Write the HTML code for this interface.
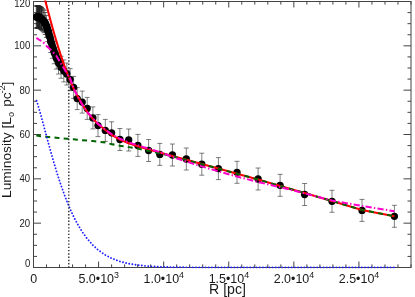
<!DOCTYPE html>
<html><head><meta charset="utf-8"><title>plot</title>
<style>
html,body{margin:0;padding:0;background:#fff;}
svg{display:block;font-family:"Liberation Sans",sans-serif;}
</style></head><body>
<svg width="415" height="297" viewBox="0 0 415 297">
<rect x="0" y="0" width="415" height="297" fill="#fff"/>
<defs><clipPath id="c2"><rect x="33.0" y="0" width="400" height="297"/></clipPath><clipPath id="c"><rect x="32.5" y="0.5" width="379.5" height="268.0"/></clipPath></defs>

<g stroke="#444" stroke-width="1" fill="none">
<rect x="33.5" y="1.5" width="377.5" height="266.0"/>
<path d="M46.52,267.5 v-3.1 M46.52,1.5 v3.1"/>
<path d="M59.53,267.5 v-3.1 M59.53,1.5 v3.1"/>
<path d="M72.55,267.5 v-3.1 M72.55,1.5 v3.1"/>
<path d="M85.57,267.5 v-3.1 M85.57,1.5 v3.1"/>
<path d="M98.59,267.5 v-6.0 M98.59,1.5 v6.0"/>
<path d="M111.60,267.5 v-3.1 M111.60,1.5 v3.1"/>
<path d="M124.62,267.5 v-3.1 M124.62,1.5 v3.1"/>
<path d="M137.64,267.5 v-3.1 M137.64,1.5 v3.1"/>
<path d="M150.66,267.5 v-3.1 M150.66,1.5 v3.1"/>
<path d="M163.67,267.5 v-6.0 M163.67,1.5 v6.0"/>
<path d="M176.69,267.5 v-3.1 M176.69,1.5 v3.1"/>
<path d="M189.71,267.5 v-3.1 M189.71,1.5 v3.1"/>
<path d="M202.72,267.5 v-3.1 M202.72,1.5 v3.1"/>
<path d="M215.74,267.5 v-3.1 M215.74,1.5 v3.1"/>
<path d="M228.76,267.5 v-6.0 M228.76,1.5 v6.0"/>
<path d="M241.78,267.5 v-3.1 M241.78,1.5 v3.1"/>
<path d="M254.79,267.5 v-3.1 M254.79,1.5 v3.1"/>
<path d="M267.81,267.5 v-3.1 M267.81,1.5 v3.1"/>
<path d="M280.83,267.5 v-3.1 M280.83,1.5 v3.1"/>
<path d="M293.84,267.5 v-6.0 M293.84,1.5 v6.0"/>
<path d="M306.86,267.5 v-3.1 M306.86,1.5 v3.1"/>
<path d="M319.88,267.5 v-3.1 M319.88,1.5 v3.1"/>
<path d="M332.90,267.5 v-3.1 M332.90,1.5 v3.1"/>
<path d="M345.91,267.5 v-3.1 M345.91,1.5 v3.1"/>
<path d="M358.93,267.5 v-6.0 M358.93,1.5 v6.0"/>
<path d="M371.95,267.5 v-3.1 M371.95,1.5 v3.1"/>
<path d="M384.97,267.5 v-3.1 M384.97,1.5 v3.1"/>
<path d="M397.98,267.5 v-3.1 M397.98,1.5 v3.1"/>
<path d="M411.00,267.5 v-3.1 M411.00,1.5 v3.1"/>
<path d="M33.5,256.42 h3.5 M411.0,256.42 h-3.5"/>
<path d="M33.5,245.33 h3.5 M411.0,245.33 h-3.5"/>
<path d="M33.5,234.25 h3.5 M411.0,234.25 h-3.5"/>
<path d="M33.5,223.17 h7.5 M411.0,223.17 h-7.5"/>
<path d="M33.5,212.08 h3.5 M411.0,212.08 h-3.5"/>
<path d="M33.5,201.00 h3.5 M411.0,201.00 h-3.5"/>
<path d="M33.5,189.92 h3.5 M411.0,189.92 h-3.5"/>
<path d="M33.5,178.83 h7.5 M411.0,178.83 h-7.5"/>
<path d="M33.5,167.75 h3.5 M411.0,167.75 h-3.5"/>
<path d="M33.5,156.67 h3.5 M411.0,156.67 h-3.5"/>
<path d="M33.5,145.58 h3.5 M411.0,145.58 h-3.5"/>
<path d="M33.5,134.50 h7.5 M411.0,134.50 h-7.5"/>
<path d="M33.5,123.42 h3.5 M411.0,123.42 h-3.5"/>
<path d="M33.5,112.33 h3.5 M411.0,112.33 h-3.5"/>
<path d="M33.5,101.25 h3.5 M411.0,101.25 h-3.5"/>
<path d="M33.5,90.17 h7.5 M411.0,90.17 h-7.5"/>
<path d="M33.5,79.08 h3.5 M411.0,79.08 h-3.5"/>
<path d="M33.5,68.00 h3.5 M411.0,68.00 h-3.5"/>
<path d="M33.5,56.92 h3.5 M411.0,56.92 h-3.5"/>
<path d="M33.5,45.83 h7.5 M411.0,45.83 h-7.5"/>
<path d="M33.5,34.75 h3.5 M411.0,34.75 h-3.5"/>
<path d="M33.5,23.67 h3.5 M411.0,23.67 h-3.5"/>
<path d="M33.5,12.58 h3.5 M411.0,12.58 h-3.5"/>
</g>
<g stroke="#222" stroke-width="0.58" fill="none" clip-path="url(#c)">
<path stroke-width="1.0" d="M36.30,6.00 V28.00 M33.80,6.00 h5 M33.80,28.00 h5"/>
<path stroke-width="1.0" d="M37.23,5.95 V27.95 M34.73,5.95 h5 M34.73,27.95 h5"/>
<path stroke-width="1.0" d="M37.60,5.93 V27.93 M35.10,5.93 h5 M35.10,27.93 h5"/>
<path stroke-width="1.0" d="M38.01,5.90 V27.90 M35.51,5.90 h5 M35.51,27.90 h5"/>
<path stroke-width="1.0" d="M38.46,6.06 V28.06 M35.96,6.06 h5 M35.96,28.06 h5"/>
<path stroke-width="1.0" d="M38.96,6.23 V28.23 M36.46,6.23 h5 M36.46,28.23 h5"/>
<path stroke-width="1.0" d="M39.50,6.43 V28.43 M37.00,6.43 h5 M37.00,28.43 h5"/>
<path stroke-width="1.0" d="M40.10,6.68 V28.68 M37.60,6.68 h5 M37.60,28.68 h5"/>
<path stroke-width="1.0" d="M40.76,7.21 V29.21 M38.26,7.21 h5 M38.26,29.21 h5"/>
<path stroke-width="1.0" d="M41.49,7.79 V29.79 M38.99,7.79 h5 M38.99,29.79 h5"/>
<path stroke-width="0.7" d="M42.29,8.52 V30.52 M39.79,8.52 h5 M39.79,30.52 h5"/>
<path stroke-width="0.7" d="M43.16,9.41 V31.41 M40.66,9.41 h5 M40.66,31.41 h5"/>
<path stroke-width="0.7" d="M44.13,10.61 V32.61 M41.63,10.61 h5 M41.63,32.61 h5"/>
<path stroke-width="0.7" d="M45.19,12.49 V34.49 M42.69,12.49 h5 M42.69,34.49 h5"/>
<path stroke-width="0.7" d="M46.36,15.36 V37.36 M43.86,15.36 h5 M43.86,37.36 h5"/>
<path d="M47.65,19.57 V41.57 M45.15,19.57 h5 M45.15,41.57 h5"/>
<path d="M49.06,24.70 V46.70 M46.56,24.70 h5 M46.56,46.70 h5"/>
<path d="M50.62,30.52 V52.52 M48.12,30.52 h5 M48.12,52.52 h5"/>
<path d="M52.33,36.30 V58.30 M49.83,36.30 h5 M49.83,58.30 h5"/>
<path d="M54.22,41.78 V63.78 M51.72,41.78 h5 M51.72,63.78 h5"/>
<path d="M56.29,47.10 V69.10 M53.79,47.10 h5 M53.79,69.10 h5"/>
<path d="M58.57,52.02 V74.02 M56.07,52.02 h5 M56.07,74.02 h5"/>
<path d="M61.07,56.27 V78.27 M58.57,56.27 h5 M58.57,78.27 h5"/>
<path d="M63.83,59.95 V81.95 M61.33,59.95 h5 M61.33,81.95 h5"/>
<path d="M66.80,63.00 V85.00 M64.30,63.00 h5 M64.30,85.00 h5"/>
<path d="M70.10,68.60 V90.60 M67.60,68.60 h5 M67.60,90.60 h5"/>
<path d="M73.60,76.40 V98.40 M71.10,76.40 h5 M71.10,98.40 h5"/>
<path d="M77.20,87.60 V109.60 M74.70,87.60 h5 M74.70,109.60 h5"/>
<path d="M82.20,91.10 V113.10 M79.70,91.10 h5 M79.70,113.10 h5"/>
<path d="M87.20,97.40 V119.40 M84.70,97.40 h5 M84.70,119.40 h5"/>
<path d="M92.90,106.90 V128.90 M90.40,106.90 h5 M90.40,128.90 h5"/>
<path d="M98.00,114.60 V136.60 M95.50,114.60 h5 M95.50,136.60 h5"/>
<path d="M105.30,119.40 V141.40 M102.80,119.40 h5 M102.80,141.40 h5"/>
<path d="M111.60,121.80 V143.80 M109.10,121.80 h5 M109.10,143.80 h5"/>
<path d="M119.90,128.50 V150.50 M117.40,128.50 h5 M117.40,150.50 h5"/>
<path d="M128.70,129.00 V151.00 M126.20,129.00 h5 M126.20,151.00 h5"/>
<path d="M137.90,134.40 V156.40 M135.40,134.40 h5 M135.40,156.40 h5"/>
<path d="M148.60,139.50 V161.50 M146.10,139.50 h5 M146.10,161.50 h5"/>
<path d="M159.80,143.40 V165.40 M157.30,143.40 h5 M157.30,165.40 h5"/>
<path d="M172.40,144.00 V166.00 M169.90,144.00 h5 M169.90,166.00 h5"/>
<path d="M186.30,148.00 V170.00 M183.80,148.00 h5 M183.80,170.00 h5"/>
<path d="M201.80,153.20 V175.20 M199.30,153.20 h5 M199.30,175.20 h5"/>
<path d="M218.40,157.60 V179.60 M215.90,157.60 h5 M215.90,179.60 h5"/>
<path d="M237.00,161.30 V183.30 M234.50,161.30 h5 M234.50,183.30 h5"/>
<path d="M258.10,168.00 V190.00 M255.60,168.00 h5 M255.60,190.00 h5"/>
<path d="M280.10,174.30 V196.30 M277.60,174.30 h5 M277.60,196.30 h5"/>
<path d="M304.60,183.50 V205.50 M302.10,183.50 h5 M302.10,205.50 h5"/>
<path d="M332.00,190.30 V212.30 M329.50,190.30 h5 M329.50,212.30 h5"/>
<path d="M362.00,199.40 V221.40 M359.50,199.40 h5 M359.50,221.40 h5"/>
<path d="M394.40,205.30 V227.30 M391.90,205.30 h5 M391.90,227.30 h5"/>
</g>
<path d="M36.30,17.00 L37.23,16.95 L37.60,16.93 L38.01,16.90 L38.46,17.06 L38.96,17.23 L39.50,17.43 L40.10,17.68 L40.76,18.21 L41.49,18.79 L42.29,19.52 L43.16,20.41 L44.13,21.61 L45.19,23.49 L46.36,26.36 L47.65,30.57 L49.06,35.70 L50.62,41.52 L52.33,47.30 L54.22,52.78 L56.29,58.10 L58.57,63.02 L61.07,67.27" fill="none" stroke="#000" stroke-width="5.6" stroke-linejoin="round" stroke-linecap="round" clip-path="url(#c2)"/>
<path d="M45.69,23.49 L46.86,26.36 L48.15,30.57 L49.56,35.70 L51.12,41.52 L52.83,47.30 L54.72,52.78 L56.79,58.10 L59.07,63.02" fill="none" stroke="#000" stroke-width="7.2" stroke-linejoin="round" stroke-linecap="round"/>
<g fill="#000" clip-path="url(#c2)">
<circle cx="36.30" cy="17.00" r="3.65"/>
<circle cx="37.23" cy="16.95" r="3.65"/>
<circle cx="37.60" cy="16.93" r="3.65"/>
<circle cx="38.01" cy="16.90" r="3.65"/>
<circle cx="38.46" cy="17.06" r="3.65"/>
<circle cx="38.96" cy="17.23" r="3.65"/>
<circle cx="39.50" cy="17.43" r="3.65"/>
<circle cx="40.10" cy="17.68" r="3.65"/>
<circle cx="40.76" cy="18.21" r="3.65"/>
<circle cx="41.49" cy="18.79" r="3.65"/>
<circle cx="42.29" cy="19.52" r="3.65"/>
<circle cx="43.16" cy="20.41" r="3.65"/>
<circle cx="44.13" cy="21.61" r="3.65"/>
<circle cx="45.19" cy="23.49" r="3.65"/>
<circle cx="46.36" cy="26.36" r="3.65"/>
<circle cx="47.65" cy="30.57" r="3.65"/>
<circle cx="49.06" cy="35.70" r="3.65"/>
<circle cx="50.62" cy="41.52" r="3.65"/>
<circle cx="52.33" cy="47.30" r="3.65"/>
<circle cx="54.22" cy="52.78" r="3.65"/>
<circle cx="56.29" cy="58.10" r="3.65"/>
<circle cx="58.57" cy="63.02" r="3.65"/>
<circle cx="61.07" cy="67.27" r="3.65"/>
<circle cx="63.83" cy="70.95" r="3.65"/>
<circle cx="66.80" cy="74.00" r="3.65"/>
<circle cx="70.10" cy="79.60" r="3.65"/>
<circle cx="73.60" cy="87.40" r="3.65"/>
<circle cx="77.20" cy="98.60" r="3.65"/>
<circle cx="82.20" cy="102.10" r="3.65"/>
<circle cx="87.20" cy="108.40" r="3.65"/>
<circle cx="92.90" cy="117.90" r="3.65"/>
<circle cx="98.00" cy="125.60" r="3.65"/>
<circle cx="105.30" cy="130.40" r="3.65"/>
<circle cx="111.60" cy="132.80" r="3.65"/>
<circle cx="119.90" cy="139.50" r="3.65"/>
<circle cx="128.70" cy="140.00" r="3.65"/>
<circle cx="137.90" cy="145.40" r="3.65"/>
<circle cx="148.60" cy="150.50" r="3.65"/>
<circle cx="159.80" cy="154.40" r="3.65"/>
<circle cx="172.40" cy="155.00" r="3.65"/>
<circle cx="186.30" cy="159.00" r="3.65"/>
<circle cx="201.80" cy="164.20" r="3.65"/>
<circle cx="218.40" cy="168.60" r="3.65"/>
<circle cx="237.00" cy="172.30" r="3.65"/>
<circle cx="258.10" cy="179.00" r="3.65"/>
<circle cx="280.10" cy="185.30" r="3.65"/>
<circle cx="304.60" cy="194.50" r="3.65"/>
<circle cx="332.00" cy="201.30" r="3.65"/>
<circle cx="362.00" cy="210.40" r="3.65"/>
<circle cx="394.40" cy="216.30" r="3.65"/>
</g>
<g fill="none" clip-path="url(#c)">
<path d="M36.30,-32.19 L37.23,-29.18 L37.60,-27.90 L38.01,-26.47 L38.46,-24.86 L38.96,-23.07 L39.50,-21.05 L40.10,-18.82 L40.76,-16.39 L41.49,-13.69 L42.29,-10.68 L43.16,-7.35 L44.13,-3.67 L45.19,0.40 L46.36,4.86 L47.65,9.75 L49.06,15.08 L50.62,20.85 L52.33,27.08 L54.22,33.74 L56.29,40.83 L58.57,48.30 L61.07,56.10 L63.83,64.16 L66.80,72.23 L70.10,80.45 L73.60,88.35 L77.20,95.62 L82.20,104.41 L87.20,111.83 L92.90,118.81 L98.00,123.94 L105.30,130.07 L111.60,134.95 L119.90,139.67 L128.70,143.27 L137.90,146.27 L148.60,149.62 L159.80,152.50 L172.40,156.10 L186.30,159.85 L201.80,164.10 L218.40,168.58 L237.00,173.70 L258.10,179.50 L280.10,186.00 L304.60,193.00 L332.00,201.00 L362.00,210.00 L394.40,216.30" stroke="#ff0000" stroke-width="2.05"/>
<path d="M36.30,135.40 L37.23,135.58 L37.60,135.67 L38.01,135.76 L38.46,135.86 L38.96,135.97 L39.50,136.09 L40.10,136.21 L40.76,136.27 L41.49,136.34 L42.29,136.41 L43.16,136.49 L44.13,136.58 L45.19,136.68 L46.36,136.79 L47.65,136.91 L49.06,137.04 L50.62,137.19 L52.33,137.35 L54.22,137.52 L56.29,137.72 L58.57,137.93 L61.07,138.16 L63.83,138.42 L66.80,138.69 L70.10,139.00 L73.60,139.33 L77.20,139.66 L82.20,140.13 L87.20,140.59 L92.90,141.12 L98.00,141.60 L105.30,142.57 L111.60,144.15 L119.90,145.73 L128.70,147.12 L137.90,148.63 L148.60,150.93 L159.80,153.20 L172.40,156.43 L186.30,160.00 L201.80,164.15 L218.40,168.60 L237.00,173.71 L258.10,179.50 L280.10,186.00 L304.60,193.00 L332.00,201.00 L362.00,210.00 L394.40,216.30" stroke="#006400" stroke-width="2" stroke-dasharray="5 4.25" stroke-dashoffset="0.2"/>
<path d="M36.30,99.91 L37.23,102.74 L37.60,103.93 L38.01,105.27 L38.46,106.78 L38.96,108.47 L39.50,110.36 L40.10,112.48 L40.76,114.84 L41.49,117.47 L42.29,120.40 L43.16,123.65 L44.13,127.25 L45.19,131.21 L46.36,135.57 L47.65,140.34 L49.06,145.53 L50.62,151.16 L52.33,157.23 L54.22,163.72 L56.29,170.61 L58.57,177.87 L61.07,185.44 L63.83,193.25 L66.80,201.04 L70.10,208.95 L73.60,216.52 L77.20,223.46 L82.20,231.79 L87.20,238.73 L92.90,245.19 L98.00,249.85 L105.30,255.00 L111.60,258.30 L119.90,261.43 L128.70,263.65 L137.90,265.14 L148.60,266.19 L159.80,266.80 L172.40,267.16 L186.30,267.35 L201.80,267.44 L218.40,267.48 L237.00,267.49 L258.10,267.50 L280.10,267.50 L304.60,267.50 L332.00,267.50 L362.00,267.50 L394.40,267.50" stroke="#2020ff" stroke-width="1.9" stroke-linecap="round" stroke-dasharray="0.01 3.18" stroke-dashoffset="-0.9"/>
<path d="M36.30,38.10 L37.23,38.49 L37.60,38.72 L38.01,38.97 L38.46,39.26 L38.96,39.56 L39.50,39.90 L40.10,40.27 L40.76,40.68 L41.24,40.99 M43.26,42.29 L44.13,43.25 L44.35,43.50 M46.05,45.41 L46.36,45.76 L47.65,47.09 L49.06,48.34 L50.62,49.70 L51.30,50.39 M53.09,52.27 L54.19,53.48 M55.92,55.38 L56.29,55.79 L58.57,59.58 L59.49,61.11 M60.72,63.16 L61.07,63.76 L61.50,64.46 M62.73,66.51 L63.83,68.35 L66.19,72.28 M67.46,74.31 L68.31,75.60 M69.64,77.62 L70.10,78.32 L71.95,83.62 M72.70,85.76 L73.17,87.12 M74.04,89.24 L76.96,95.14 M78.10,97.21 L78.85,98.52 M80.02,100.58 L82.20,104.41 L83.50,106.34 M84.86,108.35 L85.72,109.63 M87.08,111.65 L87.20,111.83 L91.58,117.12 M93.24,119.04 L94.42,120.19 M96.29,122.00 L98.00,123.66 L101.72,126.65 M103.67,128.21 L104.91,129.21 M106.89,130.70 L111.60,134.17 L112.52,134.68 M114.58,135.82 L115.90,136.55 M117.97,137.69 L119.90,138.77 L123.90,140.40 M126.02,141.27 L127.37,141.83 M129.50,142.63 L135.56,144.61 M137.71,145.31 L137.90,145.37 L139.08,145.74 M141.24,146.41 L147.30,148.31 M149.46,148.97 L150.83,149.38 M152.99,150.03 L159.07,151.84 M161.21,152.60 L162.57,153.12 M164.70,153.93 L170.71,156.22 M172.85,157.02 L174.21,157.48 M176.36,158.21 L182.41,160.26 M184.55,160.99 L185.92,161.46 M188.07,162.13 L194.14,164.02 M196.30,164.69 L197.67,165.11 M199.82,165.78 L201.80,166.40 L205.90,167.63 M208.06,168.27 L209.43,168.69 M211.59,169.33 L217.67,171.16 M219.83,171.77 L221.20,172.16 M223.37,172.76 L229.46,174.45 M231.63,175.06 L233.00,175.44 M235.16,176.04 L237.00,176.55 L241.27,177.66 M243.44,178.22 L244.82,178.58 M246.98,179.14 L253.09,180.73 M255.26,181.29 L256.64,181.65 M258.81,182.19 L264.93,183.63 M267.11,184.14 L268.49,184.47 M270.66,184.98 L276.79,186.42 M278.96,186.93 L280.10,187.20 L280.35,187.26 M282.52,187.80 L288.63,189.34 M290.80,189.89 L292.18,190.23 M294.35,190.78 L300.46,192.32 M302.63,192.86 L304.01,193.21 M306.18,193.77 L312.29,195.36 M314.46,195.92 L315.84,196.28 M318.00,196.85 L324.11,198.44 M326.28,199.00 L327.66,199.36 M329.83,199.93 L332.00,200.49 L335.96,201.22 M338.15,201.62 L339.54,201.88 M341.72,202.28 L347.87,203.41 M350.06,203.81 L351.45,204.06 M353.63,204.46 L359.79,205.59 M361.97,205.99 L362.00,206.00 L363.36,206.22 M365.55,206.57 L371.71,207.56 M373.90,207.91 L375.29,208.13 M377.48,208.48 L383.64,209.47 M385.83,209.82 L387.22,210.05 M389.41,210.40 L394.40,211.20" stroke="#ff00cc" stroke-width="2"/>
<path d="M68.8,1.5 V267.5" stroke="#222" stroke-width="1.35" stroke-dasharray="1.35 1.92"/>
</g>
<g fill="#1a1a1a" style="filter:grayscale(1)">
<text transform="translate(30.2,267.30) scale(0.87,1)" font-size="11.0" text-anchor="end">0</text>
<text transform="translate(30.2,226.67) scale(0.87,1)" font-size="11.0" text-anchor="end">20</text>
<text transform="translate(30.2,182.33) scale(0.87,1)" font-size="11.0" text-anchor="end">40</text>
<text transform="translate(30.2,138.00) scale(0.87,1)" font-size="11.0" text-anchor="end">60</text>
<text transform="translate(30.2,93.67) scale(0.87,1)" font-size="11.0" text-anchor="end">80</text>
<text transform="translate(30.2,49.33) scale(0.87,1)" font-size="11.0" text-anchor="end">100</text>
<text transform="translate(30.2,6.50) scale(0.87,1)" font-size="11.0" text-anchor="end">120</text>
<text transform="translate(33.6,283.4) scale(0.945,1)" font-size="13.2" text-anchor="middle">0</text>
<text transform="translate(98.69,283.4) scale(0.945,1)" font-size="13.2" text-anchor="middle">5.0&#8226;10<tspan font-size="9.4" dy="-5.0">3</tspan></text>
<text transform="translate(163.77,283.4) scale(0.945,1)" font-size="13.2" text-anchor="middle">1.0&#8226;10<tspan font-size="9.4" dy="-5.0">4</tspan></text>
<text transform="translate(228.86,283.4) scale(0.945,1)" font-size="13.2" text-anchor="middle">1.5&#8226;10<tspan font-size="9.4" dy="-5.0">4</tspan></text>
<text transform="translate(293.94,283.4) scale(0.945,1)" font-size="13.2" text-anchor="middle">2.0&#8226;10<tspan font-size="9.4" dy="-5.0">4</tspan></text>
<text transform="translate(359.03,283.4) scale(0.945,1)" font-size="13.2" text-anchor="middle">2.5&#8226;10<tspan font-size="9.4" dy="-5.0">4</tspan></text>
<text transform="translate(209,293.6) scale(1.01,1)" font-size="14.0">R [pc]</text>
<g transform="translate(10.7,197.9) rotate(-90) scale(1.025,1)" font-size="13.4">
<text x="0" y="0">Luminosity [L</text>
<text x="79.02" y="3.6" font-size="8.8">o</text>
<text x="88.88" y="0">pc</text>
<text x="101.85" y="-5.7" font-size="9.0">-2</text>
<text x="109.56" y="0">]</text>
</g>
</g>
</svg></body></html>
